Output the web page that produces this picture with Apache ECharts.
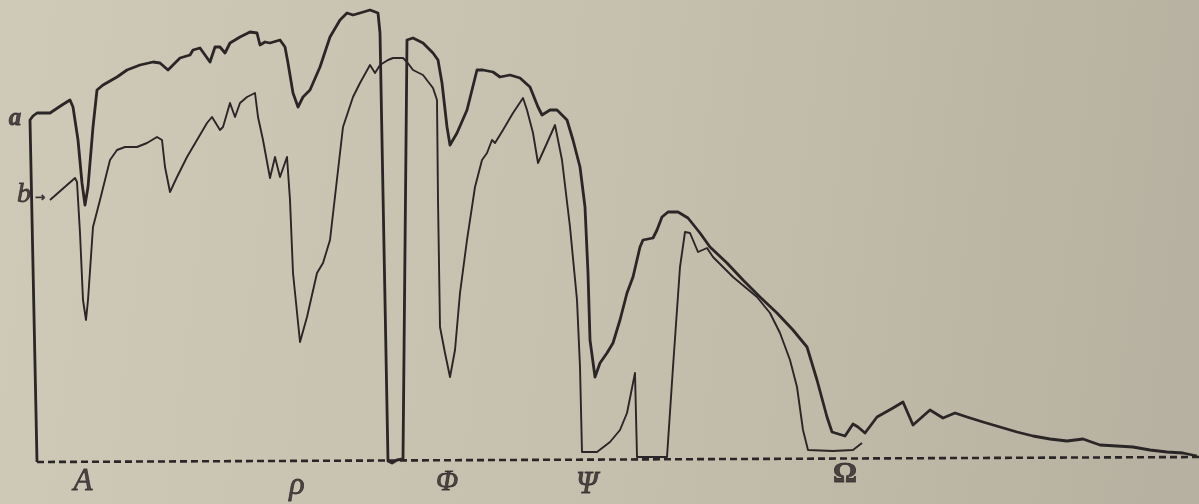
<!DOCTYPE html>
<html>
<head>
<meta charset="utf-8">
<style>
html,body{margin:0;padding:0;background:#cdc7b3;}
#chart{width:1199px;height:504px;}
</style>
<script src="https://cdn.jsdelivr.net/npm/echarts/dist/echarts.min.js"></script>
</head>
<body>
<div id="chart"></div>
<script>
// Curve a (upper, heavier trace): [position, deflection]
const curveA = [
  [37,-1],[30,341],[33,345],[37,348],[50,348],[62,356],[70,361],[73,354],[78,321],[82,278],[85,256],[88,274],[93,334],[97,371],[103,376],[117,384],[127,391],[140,396],[153,399],[160,398],[168,391],[173,396],[180,403],[190,406],[193,411],[200,413],[205,406],[210,399],[215,414],[220,414],[225,408],[230,418],[240,424],[250,429],[257,428],[260,416],[265,419],[270,418],[280,421],[285,414],[288,398],[293,368],[298,354],[303,364],[310,371],[320,394],[330,424],[340,441],[347,448],[353,446],[360,448],[370,451],[378,448],[380,428],[388,0],[392,-2],[397,1],[403,2],[407,421],[413,423],[423,418],[433,408],[438,401],[442,378],[447,334],[450,316],[457,328],[467,351],[477,391],[483,391],[493,389],[500,384],[510,386],[520,383],[530,374],[538,354],[542,346],[550,351],[557,351],[567,341],[573,321],[580,294],[585,254],[588,188],[590,121],[595,84],[600,98],[607,108],[613,118],[620,141],[627,168],[633,184],[640,214],[643,221],[653,223],[657,231],[662,244],[668,249],[678,249],[688,243],[700,228],[710,214],[727,198],[743,181],[760,164],[777,148],[793,131],[807,114],[817,81],[827,44],[832,29],[845,25],[853,37],[858,34],[865,28],[877,44],[893,53],[903,59],[913,36],[930,51],[943,43],[955,48],[967,44],[983,39],[1000,34],[1017,29],[1033,25],[1050,22],[1067,20],[1083,22],[1100,16],[1117,15],[1133,14],[1150,11],[1167,9],[1183,8],[1197,5]
];
// Curve b (lower, lighter trace)
const curveB = [
  [50,261],[75,283],[77,279],[80,228],[83,161],[86,141],[88,161],[93,234],[100,261],[110,301],[117,311],[125,314],[137,314],[147,318],[157,324],[162,321],[165,294],[170,269],[177,284],[187,304],[197,321],[207,338],[212,344],[220,331],[223,334],[230,358],[235,344],[240,358],[247,364],[255,368],[258,344],[263,321],[270,283],[275,304],[280,284],[287,304],[290,261],[293,188],[300,119],[307,144],[317,188],[323,198],[330,221],[340,308],[343,334],[353,364],[360,378],[370,396],[375,388],[380,396],[388,401],[393,403],[403,403],[407,399],[413,391],[423,386],[433,373],[437,361],[438,261],[440,134],[445,108],[450,84],[455,111],[460,168],[467,221],[475,274],[482,301],[487,308],[492,321],[495,318],[503,331],[513,348],[523,363],[527,351],[533,328],[538,298],[547,318],[555,336],[562,301],[570,234],[577,161],[580,94],[582,9],[597,9],[610,19],[620,31],[627,48],[635,88],[637,4],[667,4],[673,94],[680,194],[685,229],[690,228],[698,209],[707,213],[713,204],[733,184],[757,164],[770,148],[780,128],[790,101],[797,74],[803,31],[808,11],[833,10],[853,11],[862,18]
];
// Zero line
const baseline = [[37,-1],[1199,4]];
// Spectrum region labels
const regionNames = ['A','ρ','Φ','Ψ','Ω'];
const regionX = [83,297,447,587,845];
const regionY = [-21,-25,-21,-24,-13];
// Curve tags
const tagNames = ['a','b','→'];
const tagX = [15,24,40];
const tagY = [342,266,263];

const ink = '#2a2527';
const serif = 'Liberation Serif';
const regionFont = {
  'A': {fontSize: 31, fontStyle: 'italic'},
  'ρ': {fontSize: 32, fontStyle: 'italic'},
  'Φ': {fontSize: 29, fontStyle: 'italic'},
  'Ψ': {fontSize: 31, fontStyle: 'italic'},
  'Ω': {fontSize: 30, fontStyle: 'normal', fontWeight: 'bold'}
};
const tagFont = {
  'a': {fontSize: 25, fontStyle: 'italic', fontWeight: 'bold'},
  'b': {fontSize: 28, fontStyle: 'italic'},
  '→': {fontSize: 12, fontFamily: 'DejaVu Sans'}
};
const chart = echarts.init(document.getElementById('chart'));
chart.setOption({
  backgroundColor: {type: 'linear', x: 0, y: 0, x2: 1, y2: 0.3,
    colorStops: [{offset: 0, color: '#cfcab8'}, {offset: 0.55, color: '#c5bfad'}, {offset: 1, color: '#b7b1a1'}]},
  animation: false,
  grid: {left: 0, right: 0, top: 0, bottom: 0},
  xAxis: {type: 'value', min: 0, max: 1199, show: false},
  yAxis: {type: 'value', min: -43, max: 461, show: false},
  series: [
    {type: 'line', data: baseline, symbol: 'none', silent: true,
     lineStyle: {color: ink, width: 2.6, type: [7, 4]}},
    {type: 'line', data: curveB, symbol: 'none',
     lineStyle: {color: ink, width: 1.9, join: 'round'}},
    {type: 'line', data: curveA, symbol: 'none',
     lineStyle: {color: ink, width: 2.8, join: 'round'}},
    {type: 'scatter', symbolSize: 0,
     data: regionNames.map((n, i) => ({value: [regionX[i], regionY[i]], name: n,
       label: Object.assign({show: true, position: 'inside', formatter: n,
         fontFamily: serif, color: ink, textBorderColor: ink, textBorderWidth: 0.8}, regionFont[n])}))},
    {type: 'scatter', symbolSize: 0,
     data: tagNames.map((n, i) => ({value: [tagX[i], tagY[i]], name: n,
       label: Object.assign({show: true, position: 'inside', formatter: n,
         fontFamily: serif, color: ink, textBorderColor: ink, textBorderWidth: 0.8}, tagFont[n])}))}
  ]
});
</script>
</body>
</html>
